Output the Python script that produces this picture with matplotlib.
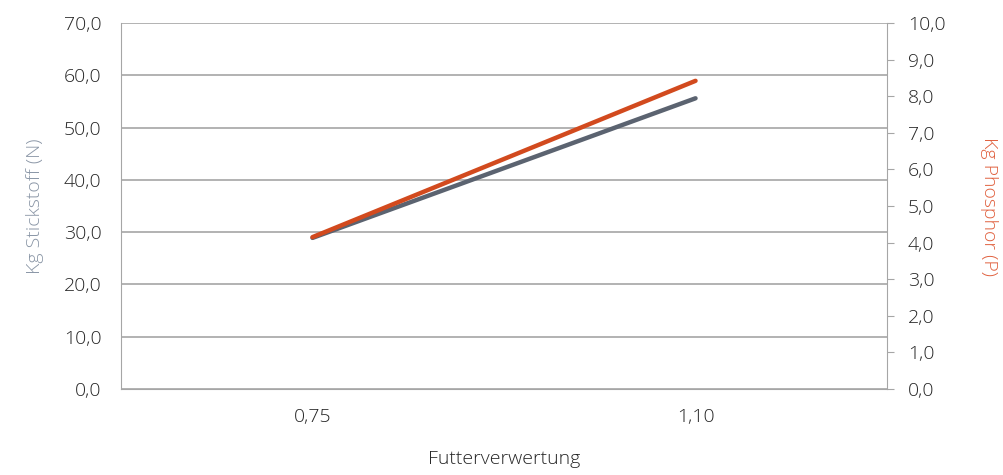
import matplotlib.pyplot as plt
import numpy as np

# data
categories = ['0,75', '1,10']
stickstoff = [28.9, 55.6]   # kg N, left axis
phosphor = [4.15, 8.42]     # kg P, right axis

plt.rcParams['font.family'] = ['Open Sans', 'DejaVu Sans']
plt.rcParams['font.weight'] = 'light'
plt.rcParams['axes.labelweight'] = 'light'

fig = plt.figure(figsize=(10.04, 4.75), dpi=100)
ax = fig.add_axes([0.1205, 0.181, 0.763, 0.7706])
ax2 = ax.twinx()

x = np.arange(len(categories))
ax.plot(x, stickstoff, color='#5b6370', linewidth=3.2, solid_capstyle='round', zorder=3)
ax2.plot(x, phosphor, color='#d24a1e', linewidth=3.2, solid_capstyle='round', zorder=3)

ax.set_xlim(-0.5, 1.5)
ax.set_ylim(0, 70)
ax2.set_ylim(0, 10)
ax.set_yticks(np.arange(0, 71, 10))
ax2.set_yticks(np.arange(0, 11, 1))
ax.set_yticklabels([f'{v:.1f}'.replace('.', ',') for v in np.arange(0, 71, 10)])
ax2.set_yticklabels([f'{v:.1f}'.replace('.', ',') for v in np.arange(0, 11, 1)])
ax.set_xticks(x, categories)

ax.grid(axis='y', color='#a6a6a6', linewidth=1.2)
ax.set_axisbelow(True)

for a in (ax, ax2):
    for s in a.spines.values():
        s.set_visible(False)
ax.spines['left'].set_visible(True)
ax.spines['left'].set_color('#a6a6a6')
ax.spines['bottom'].set_visible(True)
ax.spines['bottom'].set_color('#a6a6a6')
ax2.spines['right'].set_visible(True)
ax2.spines['right'].set_color('#a6a6a6')

ax.tick_params(axis='y', length=0, labelsize=14, labelcolor='#262626', pad=14)
ax.tick_params(axis='x', length=0, labelsize=14, labelcolor='#262626', pad=14)
ax2.tick_params(axis='y', length=5, color='#a6a6a6', labelsize=14, labelcolor='#262626', pad=10)

ax.set_xlabel('Futterverwertung', fontsize=14, color='#262626', labelpad=17)
ax.set_ylabel('Kg Stickstoff (N)', fontsize=14, color='#8a96a6', labelpad=14)
ax2.set_ylabel('Kg Phosphor (P)', fontsize=14, color='#e0603e', rotation=270, labelpad=38)

fig.savefig('out.png', dpi=100)
